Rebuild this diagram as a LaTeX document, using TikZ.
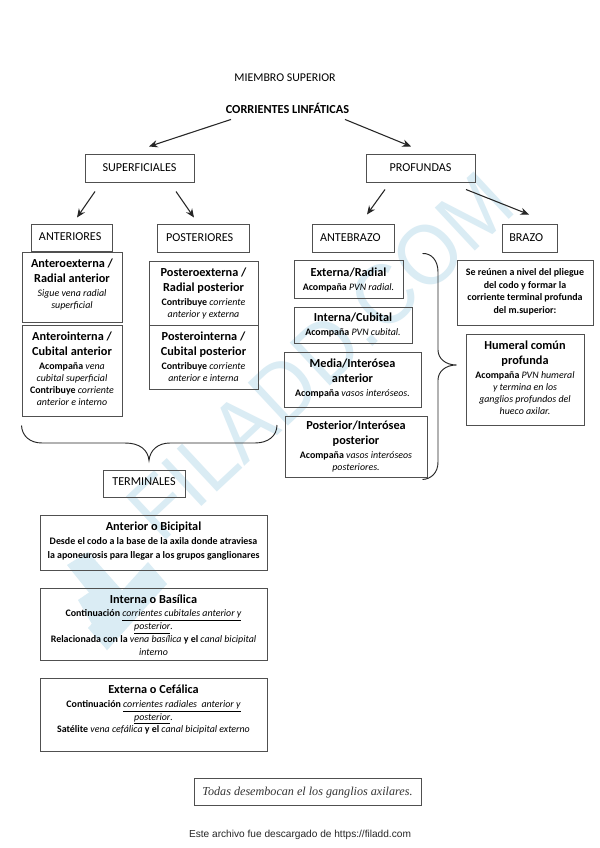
\documentclass[tikz,border=0pt]{standalone}
\usepackage{fontspec}
\usetikzlibrary{calc,arrows.meta}
\setmainfont{Carlito}
\newfontfamily\serifx{Liberation Serif}
\newfontfamily\sansx{Liberation Sans}
\definecolor{edge}{HTML}{505050}
\definecolor{wm}{HTML}{DAECF4}
\tikzset{
 x=0.75pt,y=-0.75pt,
 boxed/.style={draw=edge,line width=0.75pt,inner sep=0pt,align=center,font=\fontsize{7.45pt}{9pt}\selectfont,anchor=center},
 arrowline/.style={-{Stealth[length=6.5pt,width=5.5pt]},line width=0.8pt,draw=black!85},
 bracefig/.style={line width=0.7pt,draw=black!85}
}
\newcommand{\ti}[1]{{\fontsize{9.2pt}{11pt}\selectfont\bfseries #1}}
\newcommand{\bx}[6]{%
 \pgfmathsetmacro{\cxx}{(#2+#4)/2}\pgfmathsetmacro{\cyy}{(#3+#5)/2}%
 \pgfmathsetmacro{\wdd}{(#4-#2)*0.75}\pgfmathsetmacro{\htt}{(#5-#3)*0.75}%
 \node[boxed,minimum width=\wdd pt,minimum height=\htt pt] (#1) at (\cxx,\cyy) {\setlength{\tabcolsep}{0pt}\begin{tabular}{c}\rule{0pt}{8.5pt}#6\end{tabular}};}
\newcommand{\hd}[7]{%
 \pgfmathsetmacro{\cxx}{(#2+#4)/2}\pgfmathsetmacro{\cyy}{(#3+#5)/2}%
 \pgfmathsetmacro{\wdd}{(#4-#2)*0.75}\pgfmathsetmacro{\htt}{(#5-#3)*0.75}%
 \node[boxed,font=\fontsize{9.1pt}{10pt}\selectfont,minimum width=\wdd pt,minimum height=\htt pt] (#1) at (\cxx,\cyy) {\hspace*{#7pt}\raisebox{-1.6pt}[0pt][0pt]{#6}\hspace*{-#7pt}};}
\begin{document}
\begin{tikzpicture}
\useasboundingbox (0,0) rectangle (599,848);
\fill[white] (0,0) rectangle (599,848);
% watermark
\node[text=wm,rotate=43,xscale=0.93,font=\sansx\fontsize{64pt}{64pt}\selectfont,anchor=center] (mark) at (320,356) {FILADD.COM};
\fill[wm] (67,565) -- (88,552) -- (135,605) -- (115,625) -- cycle;
\fill[wm] (148,562) -- (167,584) -- (107,650) -- (88,628) -- cycle;
\fill[wm] (78,600) -- (100,585) -- (125,630) -- (107,650) -- cycle;
% titles
\node[inner sep=0pt,font=\fontsize{8.9pt}{10pt}\selectfont] (t1) at (285,78) {MIEMBRO SUPERIOR};
\node[inner sep=0pt,font=\fontsize{9.2pt}{10pt}\selectfont\bfseries] (t2) at (287.5,108) {CORRIENTES LINFÁTICAS};
% heads
\hd{sup}{85}{155}{194}{183}{SUPERFICIALES}{0}
\hd{pro}{366}{155}{475}{183}{PROFUNDAS}{0}
\hd{ant}{31}{225}{112}{252}{ANTERIORES}{-1}
\hd{pos}{157}{225}{249}{253}{POSTERIORES}{-2.5}
\hd{abr}{312}{225}{394}{253}{ANTEBRAZO}{-2}
\hd{bra}{502}{225}{557}{253}{BRAZO}{-2.5}
\hd{ter}{103}{470}{185}{497}{TERMINALES}{0}
% left
\bx{ae}{22}{253}{122}{322}{\ti{Anteroexterna /}\\[2.25pt]\ti{Radial anterior}\\[1.5pt]\textit{Sigue vena radial}\\\textit{superficial}\\[4.5pt]}
\bx{ai}{22}{325}{122}{416}{\ti{Anterointerna /}\\[2.25pt]\ti{Cubital anterior}\\[1.5pt]\textbf{Acompaña} \textit{vena}\\\textit{cubital superficial}\\\textbf{Contribuye} \textit{corriente}\\\textit{anterior e interno}\\[1.5pt]}
\bx{pe}{149}{262}{258}{325}{\ti{Posteroexterna /}\\[2.25pt]\ti{Radial posterior}\\[1.5pt]\textbf{Contribuye} \textit{corriente}\\\textit{anterior y externa}}
\bx{pi}{149}{325}{258}{389}{\ti{Posterointerna /}\\[2.25pt]\ti{Cubital posterior}\\[1.5pt]\textbf{Contribuye} \textit{corriente}\\\textit{anterior e interna}}
% middle
\bx{ex}{294}{261}{403}{298}{\ti{Externa/Radial}\\[1.5pt]\textbf{Acompaña} \textit{PVN radial.}}
\bx{in}{294}{307}{412}{343}{\ti{Interna/Cubital}\\[1.5pt]\textbf{Acompaña} \textit{PVN cubital.}}
\bx{me}{284}{352}{421}{407}{\ti{Media/Interósea}\\[2.25pt]\ti{anterior}\\[1.5pt]\textbf{Acompaña} \textit{vasos interóseos.}\\[1.5pt]}
\bx{po}{285}{416}{427}{477}{\ti{Posterior/Interósea}\\[2.25pt]\ti{posterior}\\[1.5pt]\textbf{Acompaña} \textit{vasos interóseos}\\\textit{posteriores.}}
% right
\bx{se}{457}{261}{593}{325}{\textbf{Se reúnen a nivel del pliegue}\\[0.4pt]\textbf{del codo y formar la}\\[0.4pt]\textbf{corriente terminal profunda}\\[0.4pt]\textbf{del m.superior:}\\[3.75pt]}
\bx{hu}{466}{334}{584}{425}{\ti{Humeral común}\\[2.25pt]\ti{profunda}\\[1.5pt]\textbf{Acompaña} \textit{PVN humeral}\\\textit{y termina en los}\\\textit{ganglios profundos del}\\\textit{hueco axilar.}\\[1.5pt]}
% terminals
\bx{ta}{40}{515}{267}{570}{\ti{Anterior o Bicipital}\\[1.5pt]\textbf{Desde el codo a la base de la axila donde atraviesa}\\[1pt]\textbf{la aponeurosis para llegar a los grupos ganglionares}\\[3pt]}
\bx{tb}{40}{588}{267}{660}{\rule{0pt}{10.7pt}\ti{Interna o Basílica}\\[0.8pt]\textbf{Continuación} \textit{\underline{corrientes cubitales anterior y}}\\[0.6pt]\textit{\underline{posterior}.}\\[0.6pt]\textbf{Relacionada con la} \textit{vena basílica} \textbf{y el} \textit{canal bicipital}\\[0.6pt]\textit{interno}}
\bx{tc}{40}{678}{267}{751}{\ti{Externa o Cefálica}\\[1.2pt]\textbf{Continuación} \textit{\underline{corrientes radiales\ \ anterior y}}\\[0.6pt]\textit{\underline{posterior}.}\\[0.3pt]\textbf{Satélite} \textit{vena cefálica} \textbf{y el} \textit{canal bicipital externo}\\[7.5pt]}
\bx{fin}{194}{778}{421}{805}{\serifx\itshape\fontsize{9.1pt}{10pt}\selectfont\color{black!80} Todas desembocan el los ganglios axilares.}
\node[font=\sansx\fontsize{7.6pt}{9pt}\selectfont,text=black!85] (foot) at (300,834.5) {Este archivo fue descargado de https://filadd.com};
% arrows
\draw[arrowline] ($(t2.south)+(-56.5,6)$) -- ($(sup.north)+(9.5,-8)$);
\draw[arrowline] ($(t2.south)+(57.5,6)$) -- ($(pro.north)+(-9.5,-8)$);
\draw[arrowline] ($(sup.south)+(-44.5,8)$) -- ($(ant.north)+(5.5,-7)$);
\draw[arrowline] ($(sup.south)+(36.5,8)$) -- ($(pos.north)+(-9,-7)$);
\draw[arrowline] ($(pro.south)+(-35.5,6)$) -- ($(abr.north)+(14,-10)$);
\draw[arrowline] ($(pro.south)+(45.5,6)$) -- ($(bra.north)+(-0.5,-10)$);
% braces
\draw[bracefig] ($(ae.west|-ai.south)+(0,9)$) .. controls (22,436) and (30,443) .. (42,443) -- (125,443) .. controls (140,443) and (148,450) .. ($(ter.north)+(5,-9)$) .. controls (150,450) and (158,443) .. (170,443) -- (255,443) .. controls (268,443) and (277,436) .. (277,425);
\draw[bracefig] ($(abr.south east)+(28,0)$) .. controls (431,253) and (438,260) .. (438,272) -- (438,350) .. controls (438,358) and (445,365) .. ($(hu.west)+(-9,-14.5)$) .. controls (445,365) and (438,372) .. (438,380) -- (438,462) .. controls (438,473) and (431,479) .. ($(po.south east)+(-5,2)$);
\end{tikzpicture}
\end{document}
